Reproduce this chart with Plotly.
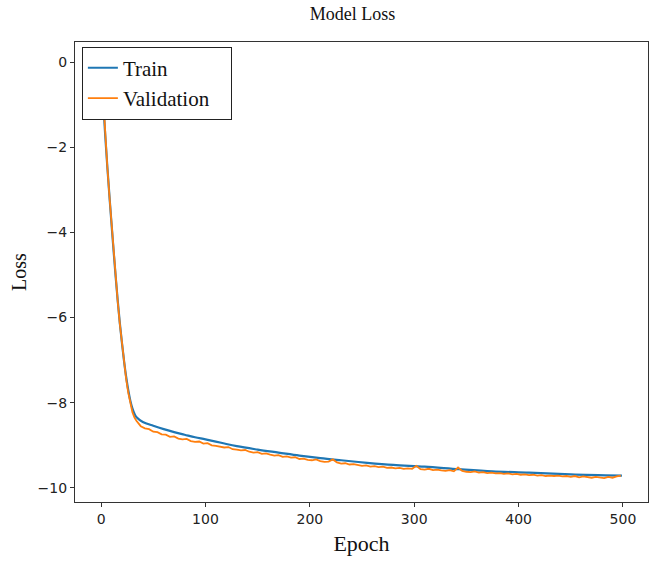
import plotly.graph_objects as go

# ---- data ----
train_epochs = [0, 2, 4, 6, 8, 10, 12, 14, 16, 18, 20, 22, 24, 26, 28, 30, 32, 34,
                40, 50, 60, 70, 80, 90, 100, 115, 130, 150, 170, 190, 210, 230,
                255, 280, 310, 343, 375, 410, 450, 499]
train_loss = [0.0, -0.92, -1.74, -2.47, -3.15, -3.80, -4.44, -5.05, -5.62, -6.14,
              -6.60, -7.02, -7.39, -7.70, -7.95, -8.13, -8.26, -8.34,
              -8.45, -8.54, -8.62, -8.69, -8.75, -8.81, -8.86, -8.94, -9.02,
              -9.10, -9.17, -9.24, -9.30, -9.35, -9.41, -9.46, -9.50, -9.56,
              -9.61, -9.64, -9.68, -9.71]

val_epochs = list(range(0, 36, 2)) + list(range(38, 500, 4))
val_loss = [
    -0.02, -0.90, -1.74, -2.47, -3.15, -3.80, -4.45, -5.06, -5.64, -6.16,
    -6.63, -7.06, -7.44, -7.76, -8.02, -8.22, -8.35, -8.43,
    -8.55, -8.60, -8.62, -8.68, -8.69, -8.74, -8.75, -8.80, -8.79, -8.84,
    -8.86, -8.85, -8.90, -8.92, -8.91, -8.96, -8.95, -9.00, -9.01, -9.03,
    -9.05, -9.04, -9.09, -9.10, -9.12, -9.11, -9.15, -9.17, -9.16, -9.20,
    -9.19, -9.22, -9.24, -9.23, -9.27, -9.26, -9.29, -9.28, -9.32, -9.31,
    -9.34, -9.35, -9.33, -9.37, -9.39, -9.38, -9.33, -9.40, -9.43, -9.42,
    -9.45, -9.44, -9.46, -9.48, -9.47, -9.50, -9.49, -9.51, -9.50, -9.53,
    -9.52, -9.54, -9.53, -9.55, -9.54, -9.55, -9.48, -9.56, -9.57, -9.55,
    -9.58, -9.57, -9.59, -9.60, -9.58, -9.61, -9.52, -9.60, -9.62, -9.63,
    -9.61, -9.64, -9.63, -9.65, -9.64, -9.66, -9.65, -9.67, -9.66, -9.68,
    -9.67, -9.69, -9.68, -9.70, -9.69, -9.71, -9.70, -9.72, -9.71, -9.72,
    -9.71, -9.73, -9.72, -9.74, -9.72, -9.75, -9.73, -9.74, -9.76, -9.74,
    -9.75, -9.77, -9.74, -9.76, -9.73, -9.71,
]

x_ticks = [0, 100, 200, 300, 400, 500]
y_ticks = [0, -2, -4, -6, -8, -10]
y_tick_text = ["0", "\u22122", "\u22124", "\u22126", "\u22128", "\u221210"]

SERIF = "Liberation Serif, Times New Roman, serif"
SANS = "DejaVu Sans, sans-serif"

fig = go.Figure()
fig.add_trace(go.Scatter(x=train_epochs, y=train_loss, mode="lines",
                         name="Train",
                         line=dict(color="#1f77b4", width=2.2, shape="spline")))
fig.add_trace(go.Scatter(x=val_epochs, y=val_loss, mode="lines",
                         name="Validation\u00a0\u00a0\u00a0",
                         line=dict(color="#ff7f0e", width=1.8)))

axis_common = dict(showline=True, linecolor="#333333", linewidth=1.3, mirror=True,
                   ticks="outside", ticklen=4, tickwidth=1.1, tickcolor="#333333",
                   showgrid=False, zeroline=False,
                   tickfont=dict(family=SANS, size=14, color="#222222"))

fig.update_layout(
    width=653, height=564,
    margin=dict(l=75, r=5, t=42, b=62),
    paper_bgcolor="white", plot_bgcolor="white",
    title=dict(text="Model Loss", x=0.54, xanchor="center", y=0.975, yanchor="middle",
               font=dict(family=SERIF, size=18, color="#111111")),
    xaxis=dict(range=[-25, 524], tickvals=x_ticks,
               title=dict(text="Epoch", font=dict(family=SERIF, size=22, color="#111111"),
                          standoff=9),
               **axis_common),
    yaxis=dict(range=[-10.33, 0.47], tickvals=y_ticks, ticktext=y_tick_text,
               title=dict(text="Loss", font=dict(family=SERIF, size=20, color="#111111"),
                          standoff=5),
               **axis_common),
    legend=dict(x=0.012, y=0.99, xanchor="left", yanchor="top",
                bgcolor="white", bordercolor="#222222", borderwidth=1,
                font=dict(family=SERIF, size=21, color="#111111"),
                itemwidth=30, tracegroupgap=0),
    showlegend=True,
)

fig.write_html("out.html")
